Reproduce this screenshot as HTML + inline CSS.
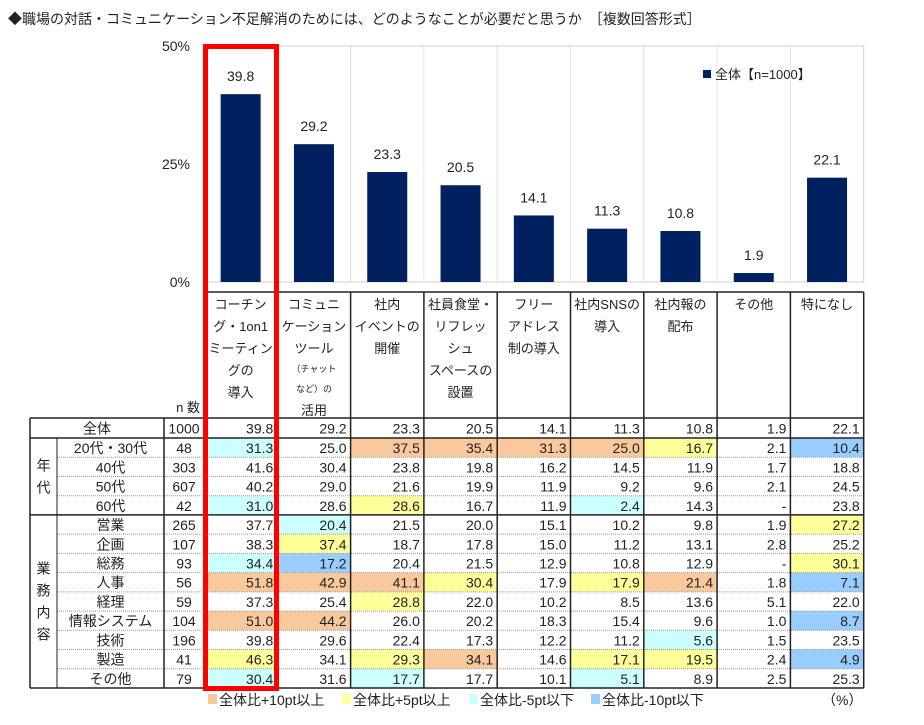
<!DOCTYPE html>
<html><head><meta charset="utf-8"><style>
body{margin:0;background:#fff;}
svg text{font-family:"Liberation Sans","Noto Sans CJK JP",sans-serif;fill:#222;}
</style></head><body>
<svg id="c" width="924" height="720" viewBox="0 0 924 720">
<text x="8" y="24" font-size="14">◆職場の対話・コミュニケーション不足解消のためには、どのようなことが必要だと思うか　［複数回答形式］</text>
</svg>
<script>
const categories=[["コーチン","グ・1on1","ミーティン","グの","導入"],["コミュニ","ケーション","ツール","*（チャット","*など）の","活用"],["社内","イベントの","開催"],["社員食堂・","リフレッ","シュ","スペースの","設置"],["フリー","アドレス","制の導入"],["社内SNSの","導入"],["社内報の","配布"],["その他"],["特になし"]];
const values=[39.8,29.2,23.3,20.5,14.1,11.3,10.8,1.9,22.1];
const yTicks=[0,25,50];
const rowLabels=["全体","20代・30代","40代","50代","60代","営業","企画","総務","人事","経理","情報システム","技術","製造","その他"];
const rowN=[1000,48,303,607,42,265,107,93,56,59,104,196,41,79];
const rowVals=[
[39.8,29.2,23.3,20.5,14.1,11.3,10.8,1.9,22.1],
[31.3,25.0,37.5,35.4,31.3,25.0,16.7,2.1,10.4],
[41.6,30.4,23.8,19.8,16.2,14.5,11.9,1.7,18.8],
[40.2,29.0,21.6,19.9,11.9,9.2,9.6,2.1,24.5],
[31.0,28.6,28.6,16.7,11.9,2.4,14.3,null,23.8],
[37.7,20.4,21.5,20.0,15.1,10.2,9.8,1.9,27.2],
[38.3,37.4,18.7,17.8,15.0,11.2,13.1,2.8,25.2],
[34.4,17.2,20.4,21.5,12.9,10.8,12.9,null,30.1],
[51.8,42.9,41.1,30.4,17.9,17.9,21.4,1.8,7.1],
[37.3,25.4,28.8,22.0,10.2,8.5,13.6,5.1,22.0],
[51.0,44.2,26.0,20.2,18.3,15.4,9.6,1.0,8.7],
[39.8,29.6,22.4,17.3,12.2,11.2,5.6,1.5,23.5],
[46.3,34.1,29.3,34.1,14.6,17.1,19.5,2.4,4.9],
[30.4,31.6,17.7,17.7,10.1,5.1,8.9,2.5,25.3]];
const legendLabels=["全体比+10pt以上","全体比+5pt以上","全体比-5pt以下","全体比-10pt以下"];
const hiColors=["#f9c99d","#ffff99","#ccffff","#99ccff"];

const svg=document.getElementById('c');const NS="http://www.w3.org/2000/svg";
function el(t,a,p){const e=document.createElementNS(NS,t);for(const k in a)e.setAttribute(k,a[k]);(p||svg).appendChild(e);return e;}
const X0=204,CW=73.3,Y0=282,Y1=46;
const y=v=>Y0-(v/50)*(Y0-Y1);
const cx=i=>X0+CW*i+CW/2;
const XR=X0+CW*9;
let g=el('rect',{x:X0,y:Y1,width:XR-X0,height:Y0-Y1,fill:"none",stroke:"#d0d0d0"});


for(let i=1;i<9;i++){let l=el('line',{x1:X0+CW*i,x2:X0+CW*i,y1:Y1,y2:Y0,stroke:"#e2e2e2"});

}
yTicks.forEach(t=>{let tx=el('text',{x:190,y:y(t)+5,"text-anchor":"end","font-size":"14"});tx.textContent=t+"%";


if(t>0){let l=el('line',{x1:X0,x2:XR,y1:y(t),y2:y(t),stroke:t==50?"#d0d0d0":"none"});}});
values.forEach((v,i)=>{let b=el('rect',{x:cx(i)-20,y:y(v),width:40,height:Y0-y(v),fill:"#002060"});


let t=el('text',{x:cx(i),y:y(v)-13,"text-anchor":"middle","font-size":"14"});t.textContent=v.toFixed(1);

});
let ls=el('rect',{x:703,y:70,width:8,height:8,fill:"#002060"});


let lt=el('text',{x:715,y:79,"font-size":"13"});lt.textContent="全体【n=1000】";


const HT=292,HB=418;
el('line',{x1:X0,x2:XR,y1:HT,y2:HT,stroke:"#222","stroke-width":1.5});
for(let i=0;i<=9;i++){el('line',{x1:X0+CW*i,x2:X0+CW*i,y1:HT,y2:HB,stroke:"#222","stroke-width":1.5});}
categories.forEach((lines,i)=>{let yy=309;lines.forEach(s=>{let small=s[0]=="*";let txt=small?s.slice(1):s;
let t=el('text',{x:cx(i),y:small?yy-3:yy,"text-anchor":"middle","font-size":small?"9":"13"});t.textContent=txt;


yy+=small?20:22;});});
let nh=el('text',{x:200,y:412,"text-anchor":"end","font-size":"13"});nh.textContent="n 数";


const TL=30,C1=57,C2=164,rowY=r=>r==0?418:438+(r-1)*19.23;
const rh=r=>r==0?20:19.23;
rowVals.forEach((row,r)=>{const ry=rowY(r),h=rh(r);
row.forEach((v,c)=>{let diff=v==null?0:v-values[c];let col=r==0||v==null?null:diff>=10?hiColors[0]:diff>=5?hiColors[1]:diff<=-10?hiColors[3]:diff<=-5?hiColors[2]:null;
if(col){let b=el('rect',{x:X0+CW*c,y:ry,width:CW,height:h,fill:col});}
let t=el('text',{x:X0+CW*(c+1)-4,y:ry+h/2+5.5,"text-anchor":"end","font-size":"14"});t.textContent=v==null?"-":v.toFixed(1);

});
let lab=el('text',{x:r==0?(TL+C2)/2:(C1+C2)/2,y:ry+h/2+5.5,"text-anchor":"middle","font-size":"14"});lab.textContent=rowLabels[r];


let n=el('text',{x:(C2+X0)/2,y:ry+h/2+5.5,"text-anchor":"middle","font-size":"14"});n.textContent=rowN[r];


if(r>0){const solid=(r==1||r==5);el('line',{x1:solid?TL:C1,x2:XR,y1:ry,y2:ry,stroke:solid?"#222":"#999","stroke-width":solid?1.5:1,"stroke-dasharray":solid?"":"1,1"});}
});
const TB=rowY(13)+19.23;
el('line',{x1:TL,x2:XR,y1:418,y2:418,stroke:"#222","stroke-width":1.5});
el('line',{x1:TL,x2:XR,y1:TB,y2:TB,stroke:"#222","stroke-width":1.5});
[TL,C2,X0].forEach(x=>el('line',{x1:x,x2:x,y1:418,y2:TB,stroke:"#222","stroke-width":1.5}));
el('line',{x1:C1,x2:C1,y1:438,y2:TB,stroke:"#222","stroke-width":1});
for(let i=1;i<=9;i++)el('line',{x1:X0+CW*i,x2:X0+CW*i,y1:418,y2:TB,stroke:"#222","stroke-width":1.5});
[["年","代"],["業","務","内","容"]].forEach((g,k)=>{const top=k==0?rowY(1):rowY(5),bot=k==0?rowY(5):TB;const mid=(top+bot)/2;
g.forEach((ch,j)=>{let t=el('text',{x:(TL+C1)/2,y:mid-(g.length-1)*11+j*22+5,"text-anchor":"middle","font-size":"14"});t.textContent=ch;

});});
let rb=el('rect',{x:205.5,y:46.5,width:71,height:642,fill:"none",stroke:"#ff0000","stroke-width":5});


const lx=[208,342,469,591];
legendLabels.forEach((s,i)=>{let r=el('rect',{x:lx[i],y:694,width:9,height:10,fill:hiColors[i]});


let t=el('text',{x:lx[i]+11,y:705,"font-size":"14"});t.textContent=s;

});
let pc=el('text',{x:822,y:705,"font-size":"14"});pc.textContent="（%）";


</script>
</body></html>
